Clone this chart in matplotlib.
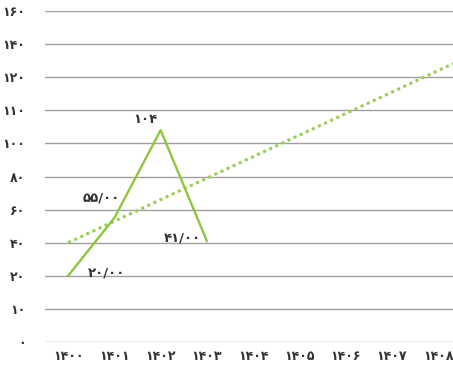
import matplotlib
matplotlib.use("Agg")
import matplotlib.pyplot as plt
import numpy as np

# data
years = [1400, 1401, 1402, 1403]
values = [20, 55, 104, 41]
point_labels = ["۲۰/۰۰", "۵۵/۰۰", "۱۰۴", "۴۱/۰۰"]

trend_years = [1400, 1409]
trend_values = [40, 137]

xtick_years = list(range(1400, 1409))
ytick_values = [0, 10, 20, 40, 60, 80, 100, 110, 120, 140, 160]

FA = str.maketrans("0123456789", "۰۱۲۳۴۵۶۷۸۹")


def fa(n):
    return str(n).translate(FA)


# the y axis ticks are evenly spaced though their values are not
tick_idx = np.arange(len(ytick_values), dtype=float)


def fwd(v):
    return np.interp(v, ytick_values, tick_idx)


def inv(i):
    return np.interp(i, tick_idx, ytick_values)


green = "#8dc63f"
txt = "#333333"

fig = plt.figure(figsize=(4.53, 3.65), dpi=100)
ax = fig.add_axes([45 / 453, 23 / 365, 408 / 453, 331 / 365])
ax.set_yscale("function", functions=(fwd, inv))

ax.plot(trend_years, trend_values, color="#9acd55", lw=2.2, ls=(0, (1, 1.2)),
        zorder=3)
ax.plot(years, values, color=green, lw=1.7, zorder=4)

offsets = [(14, 2), (4, 14), (-2, 8), (-4, 2)]
aligns = ["left", "right", "right", "right"]
for x, y, lab, off, ha in zip(years, values, point_labels, offsets, aligns):
    ax.annotate(lab, (x, y), xytext=off, textcoords="offset points",
                ha=ha, va="center", fontsize=9.5, fontweight="bold",
                color=txt, family="DejaVu Sans")

ax.set_ylim(0, 160)
ax.set_xlim(1399.5, 1408.32)
ax.set_yticks(ytick_values)
ax.set_yticklabels([fa(v) for v in ytick_values])
ax.set_xticks(xtick_years)
ax.set_xticklabels([fa(v) for v in xtick_years])
ax.yaxis.set_minor_locator(matplotlib.ticker.NullLocator())

for lab in ax.get_xticklabels() + ax.get_yticklabels():
    lab.set_fontweight("bold")
    lab.set_fontsize(9)
    lab.set_color(txt)

ax.tick_params(axis="y", length=0, pad=14)
ax.tick_params(axis="x", length=0, pad=6)
ax.grid(axis="y", color="#a0a0a0", lw=1)
ax.set_axisbelow(True)
for s in ax.spines.values():
    s.set_visible(False)

fig.savefig("out.png", dpi=100)
